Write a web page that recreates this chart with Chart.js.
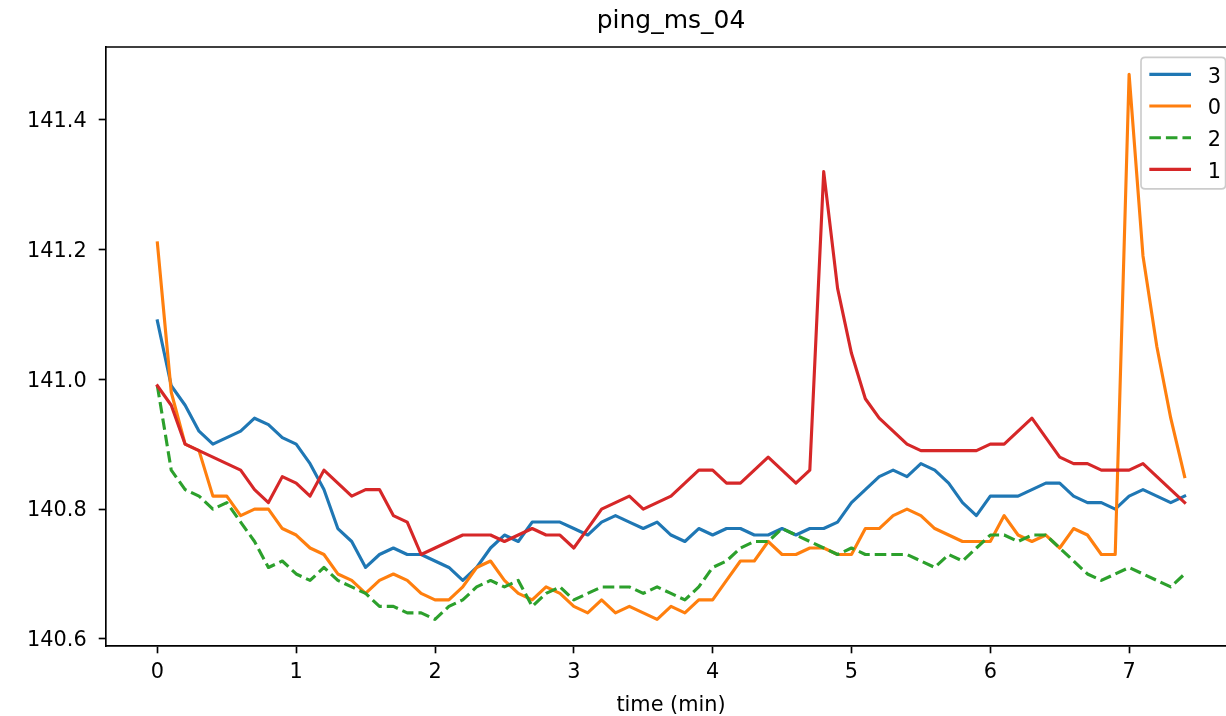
<!DOCTYPE html>
<html>
<head>
<meta charset="utf-8">
<script src="https://cdn.jsdelivr.net/npm/chart.js@4.4.1/dist/chart.umd.min.js"></script>
<style>
  html, body { margin: 0; padding: 0; overflow: hidden; background: #fff; }
  canvas { display: block; }
</style>
</head>
<body>
<canvas id="chart" width="1250" height="716"></canvas>
<script>
// time in minutes, one sample every 6 s
const times = [0.0, 0.1, 0.2, 0.3, 0.4, 0.5, 0.6, 0.7, 0.8, 0.9,
  1.0, 1.1, 1.2, 1.3, 1.4, 1.5, 1.6, 1.7, 1.8, 1.9,
  2.0, 2.1, 2.2, 2.3, 2.4, 2.5, 2.6, 2.7, 2.8, 2.9,
  3.0, 3.1, 3.2, 3.3, 3.4, 3.5, 3.6, 3.7, 3.8, 3.9,
  4.0, 4.1, 4.2, 4.3, 4.4, 4.5, 4.6, 4.7, 4.8, 4.9,
  5.0, 5.1, 5.2, 5.3, 5.4, 5.5, 5.6, 5.7, 5.8, 5.9,
  6.0, 6.1, 6.2, 6.3, 6.4, 6.5, 6.6, 6.7, 6.8, 6.9,
  7.0, 7.1, 7.2, 7.3, 7.4];

const ping3 = [141.09, 140.99, 140.96, 140.92, 140.90, 140.91, 140.92, 140.94, 140.93, 140.91,
  140.90, 140.87, 140.83, 140.77, 140.75, 140.71, 140.73, 140.74, 140.73, 140.73,
  140.72, 140.71, 140.69, 140.71, 140.74, 140.76, 140.75, 140.78, 140.78, 140.78,
  140.77, 140.76, 140.78, 140.79, 140.78, 140.77, 140.78, 140.76, 140.75, 140.77,
  140.76, 140.77, 140.77, 140.76, 140.76, 140.77, 140.76, 140.77, 140.77, 140.78,
  140.81, 140.83, 140.85, 140.86, 140.85, 140.87, 140.86, 140.84, 140.81, 140.79,
  140.82, 140.82, 140.82, 140.83, 140.84, 140.84, 140.82, 140.81, 140.81, 140.80,
  140.82, 140.83, 140.82, 140.81, 140.82];

const ping0 = [141.21, 140.98, 140.90, 140.89, 140.82, 140.82, 140.79, 140.80, 140.80, 140.77,
  140.76, 140.74, 140.73, 140.70, 140.69, 140.67, 140.69, 140.70, 140.69, 140.67,
  140.66, 140.66, 140.68, 140.71, 140.72, 140.69, 140.67, 140.66, 140.68, 140.67,
  140.65, 140.64, 140.66, 140.64, 140.65, 140.64, 140.63, 140.65, 140.64, 140.66,
  140.66, 140.69, 140.72, 140.72, 140.75, 140.73, 140.73, 140.74, 140.74, 140.73,
  140.73, 140.77, 140.77, 140.79, 140.80, 140.79, 140.77, 140.76, 140.75, 140.75,
  140.75, 140.79, 140.76, 140.75, 140.76, 140.74, 140.77, 140.76, 140.73, 140.73,
  141.47, 141.19, 141.05, 140.94, 140.85];

const ping2 = [140.99, 140.86, 140.83, 140.82, 140.80, 140.81, 140.78, 140.75, 140.71, 140.72,
  140.70, 140.69, 140.71, 140.69, 140.68, 140.67, 140.65, 140.65, 140.64, 140.64,
  140.63, 140.65, 140.66, 140.68, 140.69, 140.68, 140.69, 140.65, 140.67, 140.68,
  140.66, 140.67, 140.68, 140.68, 140.68, 140.67, 140.68, 140.67, 140.66, 140.68,
  140.71, 140.72, 140.74, 140.75, 140.75, 140.77, 140.76, 140.75, 140.74, 140.73,
  140.74, 140.73, 140.73, 140.73, 140.73, 140.72, 140.71, 140.73, 140.72, 140.74,
  140.76, 140.76, 140.75, 140.76, 140.76, 140.74, 140.72, 140.70, 140.69, 140.70,
  140.71, 140.70, 140.69, 140.68, 140.70];

const ping1 = [140.99, 140.96, 140.90, 140.89, 140.88, 140.87, 140.86, 140.83, 140.81, 140.85,
  140.84, 140.82, 140.86, 140.84, 140.82, 140.83, 140.83, 140.79, 140.78, 140.73,
  140.74, 140.75, 140.76, 140.76, 140.76, 140.75, 140.76, 140.77, 140.76, 140.76,
  140.74, 140.77, 140.80, 140.81, 140.82, 140.80, 140.81, 140.82, 140.84, 140.86,
  140.86, 140.84, 140.84, 140.86, 140.88, 140.86, 140.84, 140.86, 141.32, 141.14,
  141.04, 140.97, 140.94, 140.92, 140.90, 140.89, 140.89, 140.89, 140.89, 140.89,
  140.90, 140.90, 140.92, 140.94, 140.91, 140.88, 140.87, 140.87, 140.86, 140.86,
  140.86, 140.87, 140.85, 140.83, 140.81];

const xTicks = [0, 1, 2, 3, 4, 5, 6, 7];
const xTickLabels = ['0', '1', '2', '3', '4', '5', '6', '7'];
const yTicks = [140.6, 140.8, 141.0, 141.2, 141.4];
const yTickLabels = ['140.6', '140.8', '141.0', '141.2', '141.4'];

const PT = 150 / 72;           // figure was saved at 150 dpi
const FS = 10 * PT;            // tick / label font size
const LW = 1.5 * PT;           // line width

Chart.defaults.font.family = '"DejaVu Sans", sans-serif';
Chart.defaults.color = '#000';

function toPoints(ys) {
  return times.map((t, i) => ({ x: t, y: ys[i] }));
}

function makeSet(label, ys, color, order, dash) {
  return {
    label: label,
    data: toPoints(ys),
    borderColor: color,
    backgroundColor: color,
    borderWidth: LW,
    borderDash: dash || [],
    borderCapStyle: dash ? 'butt' : 'square',
    borderJoinStyle: 'round',
    pointRadius: 0,
    tension: 0,
    fill: false,
    order: order
  };
}

// top/right spines and the legend box in the upper right corner
const frameAndLegend = {
  id: 'frameAndLegend',
  afterDraw(chart) {
    const ctx = chart.ctx;
    const a = chart.chartArea;
    ctx.save();
    ctx.strokeStyle = '#000';
    ctx.lineWidth = 0.8 * PT;
    ctx.setLineDash([]);
    ctx.beginPath();
    ctx.moveTo(a.left, a.top);
    ctx.lineTo(a.right, a.top);
    ctx.lineTo(a.right, a.bottom);
    ctx.stroke();

    // legend
    const pad = 0.5 * FS;
    const right = a.right - pad;
    const top = a.top + pad;
    const left = 1141;
    const height = 131.5;
    const r = 0.2 * FS;
    ctx.beginPath();
    ctx.moveTo(left + r, top);
    ctx.lineTo(right - r, top);
    ctx.quadraticCurveTo(right, top, right, top + r);
    ctx.lineTo(right, top + height - r);
    ctx.quadraticCurveTo(right, top + height, right - r, top + height);
    ctx.lineTo(left + r, top + height);
    ctx.quadraticCurveTo(left, top + height, left, top + height - r);
    ctx.lineTo(left, top + r);
    ctx.quadraticCurveTo(left, top, left + r, top);
    ctx.closePath();
    ctx.fillStyle = 'rgba(255,255,255,0.8)';
    ctx.fill();
    ctx.strokeStyle = '#cccccc';
    ctx.lineWidth = 0.8 * PT;
    ctx.stroke();

    ctx.font = FS + 'px "DejaVu Sans"';
    ctx.textBaseline = 'middle';
    ctx.textAlign = 'left';
    ctx.fillStyle = '#000';
    const x1 = left + 0.4 * FS;
    const x2 = x1 + 2.0 * FS;
    chart.data.datasets.forEach((ds, i) => {
      const y = top + 16.9 + i * 31.7;
      ctx.strokeStyle = ds.borderColor;
      ctx.lineWidth = ds.borderWidth;
      ctx.lineCap = 'butt';
      ctx.setLineDash(ds.borderDash);
      ctx.beginPath();
      ctx.moveTo(x1, y);
      ctx.lineTo(x2, y);
      ctx.stroke();
      ctx.setLineDash([]);
      ctx.fillText(ds.label, x2 + 0.8 * FS, y + 3);
    });
    ctx.restore();
  }
};

new Chart(document.getElementById('chart'), {
  type: 'line',
  data: {
    datasets: [
      makeSet('3', ping3, '#1f77b4', 3),
      makeSet('0', ping0, '#ff7f0e', 2),
      makeSet('2', ping2, '#2ca02c', 1, [3.7 * LW, 1.6 * LW]),
      makeSet('1', ping1, '#d62728', 0)
    ]
  },
  options: {
    responsive: false,
    animation: false,
    layout: { padding: { left: 0, right: 14, top: 0, bottom: 0 } },
    plugins: {
      legend: { display: false },
      tooltip: { enabled: false },
      title: {
        display: true,
        text: 'ping_ms_04',
        fullSize: false,
        color: '#000',
        font: { size: 12 * PT, weight: 'normal' },
        padding: { top: 6, bottom: 11 }
      }
    },
    scales: {
      x: {
        type: 'linear',
        min: -0.37,
        max: 7.77,
        afterFit(scale) { scale.height = 70; },
        afterBuildTicks(scale) { scale.ticks = xTicks.map(v => ({ value: v })); },
        ticks: {
          color: '#000',
          font: { size: FS },
          padding: 3.5 * PT,
          maxRotation: 0,
          autoSkip: false,
          callback: (v, i) => xTickLabels[i]
        },
        grid: {
          drawOnChartArea: false,
          drawTicks: true,
          tickLength: 3.5 * PT,
          tickWidth: 0.8 * PT,
          tickColor: '#000'
        },
        border: { display: true, color: '#000', width: 0.8 * PT },
        title: {
          display: true,
          text: 'time (min)',
          color: '#000',
          font: { size: FS, lineHeight: 1 },
          padding: { top: 0, bottom: 0 }
        }
      },
      y: {
        type: 'linear',
        min: 140.589,
        max: 141.512,
        afterFit(scale) { scale.width = 106; },
        afterBuildTicks(scale) { scale.ticks = yTicks.map(v => ({ value: v })); },
        ticks: {
          color: '#000',
          font: { size: FS },
          padding: 12,
          labelOffset: 2,
          autoSkip: false,
          callback: (v, i) => yTickLabels[i]
        },
        grid: {
          drawOnChartArea: false,
          drawTicks: true,
          tickLength: 3.5 * PT,
          tickWidth: 0.8 * PT,
          tickColor: '#000'
        },
        border: { display: true, color: '#000', width: 0.8 * PT }
      }
    }
  },
  plugins: [frameAndLegend]
});
</script>
</body>
</html>
